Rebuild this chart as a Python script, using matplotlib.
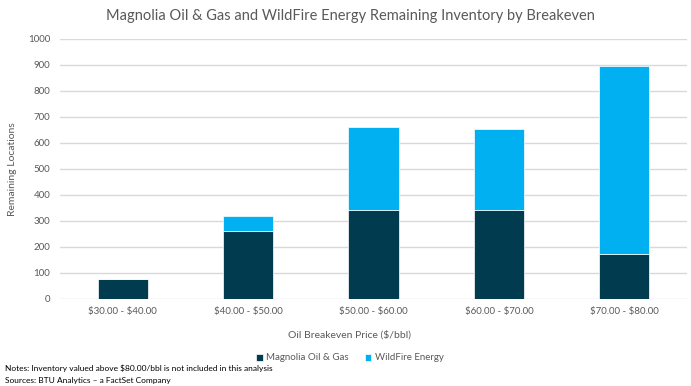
import matplotlib.pyplot as plt
import numpy as np

# breakeven buckets and remaining locations
categories = ['$30.00 - $40.00', '$40.00 - $50.00', '$50.00 - $60.00',
              '$60.00 - $70.00', '$70.00 - $80.00']
magnolia = [77, 263, 344, 341, 173]
wildfire = [0, 55, 319, 312, 722]
yticks = [0, 100, 200, 300, 400, 500, 600, 700, 800, 900, 1000]

dark = '#003B4F'
light = '#00B0F0'
grey = '#595959'

plt.rcParams['font.family'] = ['Lato', 'DejaVu Sans']

fig = plt.figure(figsize=(6.91, 3.86), dpi=100)
ax = fig.add_axes([60 / 691, 87 / 386, 627 / 691, 260 / 386])

x = np.arange(len(categories))
ax.bar(x, magnolia, width=0.4, color=dark, edgecolor='white', linewidth=0.5,
       label='Magnolia Oil & Gas', zorder=3)
ax.bar(x, wildfire, width=0.4, bottom=magnolia, color=light, edgecolor='white',
       linewidth=0.5, label='WildFire Energy', zorder=3)

ax.set_xlim(-0.5, len(categories) - 0.5)
ax.set_ylim(0, 1000)
ax.set_yticks(yticks)
ax.set_xticks(x)
# escape the dollar signs so they are not read as mathtext
ax.set_xticklabels([c.replace('$', r'\$') for c in categories])
ax.tick_params(axis='both', length=0, labelsize=7, labelcolor=grey)
ax.tick_params(axis='y', pad=7)
ax.tick_params(axis='x', pad=6)
ax.grid(axis='y', color='#D9D9D9', linewidth=1, zorder=0)
for s in ax.spines.values():
    s.set_visible(False)

fig.text(350 / 691, 1 - 335 / 386, 'Oil Breakeven Price (\\$/bbl)', ha='center', va='center',
         fontsize=7.5, color=grey)
fig.text(13 / 691, 1 - 169 / 386, 'Remaining Locations', rotation=90, ha='center', va='center',
         fontsize=7.5, color=grey)

fig.text(350 / 691, 1 - 16 / 386, 'Magnolia Oil & Gas and WildFire Energy Remaining Inventory by Breakeven',
         ha='center', va='center', fontsize=10.5, color=grey)

fig.legend(loc='center', bbox_to_anchor=(350 / 691, 1 - 358 / 386), ncol=2,
           frameon=False, fontsize=7, labelcolor=grey, handlelength=0.7,
           handleheight=0.7, columnspacing=1.6, handletextpad=0.4)

fig.text(5 / 691, 1 - 368 / 386, 'Notes: Inventory valued above $80.00/bbl is not included in this analysis',
         ha='left', va='center', fontsize=6, color='black')
fig.text(5 / 691, 1 - 380 / 386, 'Sources: BTU Analytics \u2013 a FactSet Company',
         ha='left', va='center', fontsize=6, color='black')

fig.savefig('out.png', dpi=100)
